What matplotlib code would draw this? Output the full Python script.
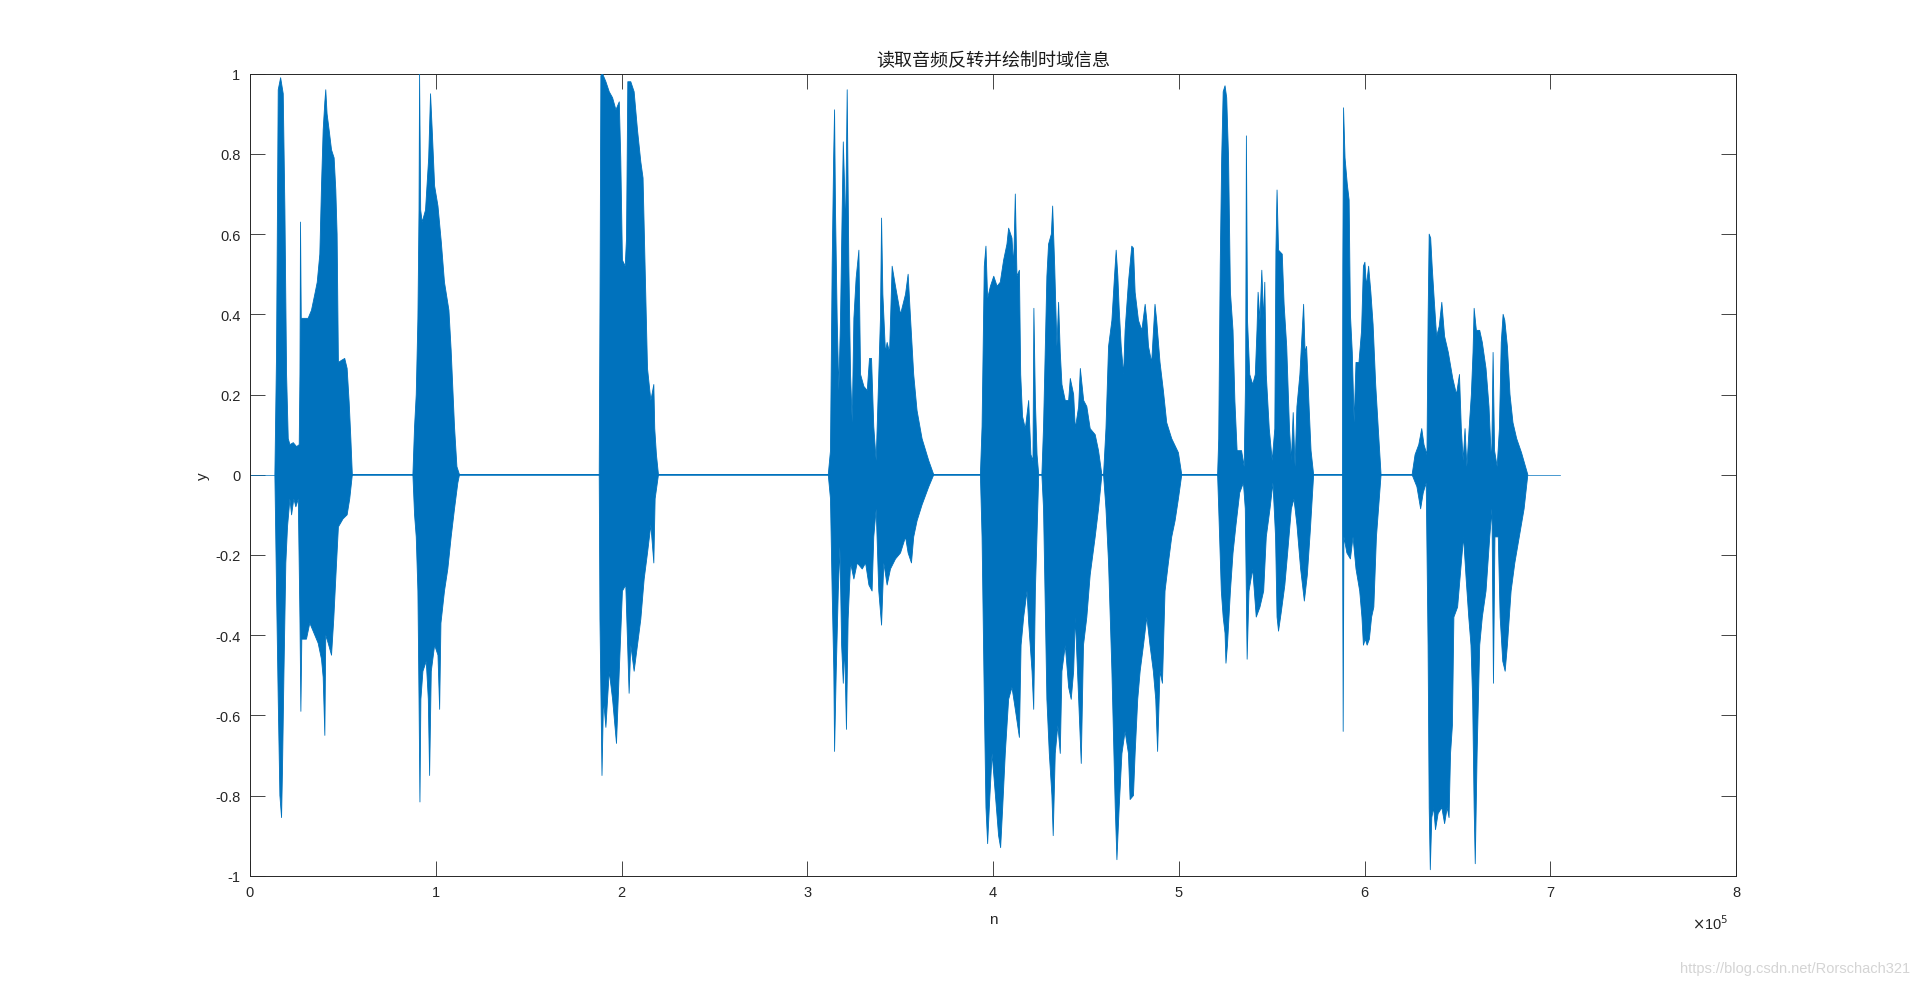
import numpy as np
import matplotlib
matplotlib.use("Agg")
import matplotlib.pyplot as plt
from matplotlib.ticker import FuncFormatter, FixedLocator

# ---------------- data ----------------
title_text = "读取音频反转并绘制时域信息"
xlabel_text = "n"
ylabel_text = "y"
watermark = "https://blog.csdn.net/Rorschach321"

x_ticks_e5 = [0, 1, 2, 3, 4, 5, 6, 7, 8]
y_ticks = [-1, -0.8, -0.6, -0.4, -0.2, 0, 0.2, 0.4, 0.6, 0.8, 1]
signal_length_e5 = 7.05   # baseline extends to the last sample

# upper envelope of the waveform (x in units of 1e5 samples, amplitude)
env_top_x_e5 = [
    0.134, 0.143, 0.152, 0.165, 0.172, 0.179, 0.188, 0.197, 0.206, 0.215, 0.233, 0.251, 0.265, 0.269,
    0.272, 0.276, 0.295, 0.313, 0.331, 0.349, 0.362, 0.376, 0.385, 0.394, 0.403, 0.408, 0.415, 0.426,
    0.439, 0.453, 0.462, 0.469, 0.476, 0.492, 0.510, 0.523, 0.534, 0.543, 0.551,
    0.877, 0.886, 0.895, 0.904, 0.910, 0.913, 0.919, 0.927, 0.945, 0.962, 0.972, 0.981, 0.994, 1.012,
    1.030, 1.047, 1.071, 1.083, 1.101, 1.114, 1.128,
    1.880, 1.884, 1.889, 1.898, 1.916, 1.934, 1.952, 1.970, 1.988, 1.996, 2.005, 2.020, 2.027, 2.034,
    2.050, 2.068, 2.086, 2.104, 2.116, 2.127, 2.140, 2.158, 2.174, 2.179, 2.188, 2.199,
    3.113, 3.125, 3.134, 3.142, 3.147, 3.152, 3.161, 3.170, 3.179, 3.188, 3.194, 3.201, 3.206, 3.215,
    3.224, 3.233, 3.242, 3.251, 3.263, 3.278, 3.287, 3.305, 3.323, 3.335, 3.346, 3.358, 3.371, 3.385,
    3.394, 3.400, 3.407, 3.421, 3.430, 3.443, 3.457, 3.475, 3.502, 3.529, 3.543, 3.556, 3.573, 3.591,
    3.618, 3.654, 3.681,
    3.932, 3.941, 3.953, 3.962, 3.971, 3.986, 4.004, 4.022, 4.039, 4.057, 4.075, 4.084, 4.102, 4.111,
    4.120, 4.129, 4.142, 4.149, 4.159, 4.174, 4.192, 4.204, 4.215, 4.220, 4.228, 4.237, 4.246,
    4.263, 4.272, 4.290, 4.299, 4.314, 4.321, 4.332, 4.344, 4.353, 4.362, 4.371, 4.389, 4.407, 4.416,
    4.434, 4.443, 4.461, 4.470, 4.488, 4.505, 4.523, 4.550, 4.568, 4.586,
    4.595, 4.608, 4.622, 4.640, 4.654, 4.663, 4.672, 4.679, 4.690, 4.703, 4.711, 4.729, 4.747, 4.756,
    4.765, 4.783, 4.801, 4.819, 4.828, 4.837, 4.854, 4.872, 4.881, 4.899, 4.917, 4.935, 4.962, 4.998, 5.016,
    5.209, 5.215, 5.223, 5.231, 5.239, 5.249, 5.258, 5.268, 5.278, 5.292, 5.302, 5.314, 5.338, 5.352,
    5.360, 5.364, 5.370, 5.382, 5.398, 5.412, 5.421, 5.427, 5.437, 5.447, 5.457, 5.463, 5.471, 5.487,
    5.503, 5.517, 5.523, 5.529, 5.537, 5.557, 5.567, 5.581, 5.596, 5.606, 5.616, 5.626, 5.636, 5.652,
    5.672, 5.680, 5.688, 5.700, 5.712, 5.726,
    5.881, 5.883, 5.887, 5.895, 5.907, 5.917, 5.924, 5.934, 5.944, 5.954, 5.970, 5.984, 5.994, 6.002,
    6.010, 6.022, 6.034, 6.046, 6.060, 6.074, 6.089,
    6.256, 6.272, 6.292, 6.308, 6.320, 6.336, 6.342, 6.348, 6.356, 6.364, 6.376, 6.388, 6.402, 6.416,
    6.431, 6.451, 6.475, 6.495, 6.511, 6.521, 6.531, 6.541, 6.551, 6.563, 6.575, 6.584, 6.590, 6.602,
    6.620, 6.634, 6.654, 6.670, 6.684, 6.692, 6.700, 6.714, 6.726, 6.736, 6.746, 6.755, 6.769, 6.783,
    6.799, 6.819, 6.845, 6.879,
]
env_top_y = [
    0, 0.305, 0.96, 0.99, 0.97, 0.95, 0.66, 0.25, 0.09, 0.075, 0.08, 0.07, 0.075, 0.25,
    0.63, 0.39, 0.39, 0.39, 0.41, 0.45, 0.48, 0.55, 0.72, 0.86, 0.93, 0.96, 0.90, 0.86,
    0.81, 0.79, 0.71, 0.60, 0.28, 0.285, 0.29, 0.265, 0.18, 0.09, 0,
    0, 0.12, 0.20, 0.39, 0.66, 1.0, 0.66, 0.63, 0.66, 0.79, 0.95, 0.86, 0.72, 0.67,
    0.58, 0.48, 0.41, 0.31, 0.12, 0.02, 0,
    0, 0.41, 0.995, 1.0, 0.98, 0.955, 0.94, 0.91, 0.93, 0.79, 0.535, 0.52, 0.59, 0.98,
    0.98, 0.955, 0.86, 0.78, 0.74, 0.52, 0.265, 0.185, 0.225, 0.115, 0.05, 0,
    0, 0.06, 0.52, 0.79, 0.91, 0.66, 0.39, 0.21, 0.39, 0.66, 0.83, 0.72, 0.59, 0.96,
    0.52, 0.25, 0.13, 0.39, 0.49, 0.56, 0.25, 0.22, 0.21, 0.29, 0.29, 0.12, 0.035, 0.25,
    0.39, 0.64, 0.45, 0.305, 0.33, 0.305, 0.52, 0.47, 0.40, 0.45, 0.50, 0.39, 0.25, 0.16,
    0.09, 0.035, 0,
    0, 0.12, 0.52, 0.57, 0.44, 0.47, 0.495, 0.47, 0.48, 0.535, 0.575, 0.615, 0.59, 0.52,
    0.70, 0.495, 0.51, 0.25, 0.145, 0.115, 0.185, 0.05, 0.035, 0.415, 0.185, 0.05, 0,
    0, 0.12, 0.495, 0.575, 0.60, 0.67, 0.52, 0.32, 0.43, 0.305, 0.225, 0.185, 0.185, 0.24,
    0.20, 0.115, 0.17, 0.265, 0.185, 0.17, 0.115, 0.10, 0.06, 0,
    0, 0.115, 0.32, 0.385, 0.495, 0.56, 0.495, 0.415, 0.32, 0.25, 0.36, 0.48, 0.57, 0.565,
    0.455, 0.385, 0.36, 0.425, 0.385, 0.32, 0.28, 0.425, 0.385, 0.28, 0.21, 0.13, 0.09, 0.055, 0,
    0, 0.09, 0.52, 0.79, 0.955, 0.97, 0.94, 0.79, 0.455, 0.36, 0.185, 0.06, 0.06, 0.02,
    0.25, 0.845, 0.385, 0.25, 0.225, 0.25, 0.36, 0.455, 0.385, 0.51, 0.385, 0.48, 0.25, 0.115,
    0.035, 0.115, 0.56, 0.71, 0.56, 0.55, 0.425, 0.32, 0.115, 0.035, 0.155, 0.02, 0.17, 0.25,
    0.425, 0.305, 0.32, 0.185, 0.06, 0,
    0, 0.52, 0.915, 0.79, 0.725, 0.685, 0.40, 0.305, 0.13, 0.28, 0.28, 0.36, 0.52, 0.53,
    0.47, 0.52, 0.455, 0.375, 0.225, 0.115, 0,
    0, 0.05, 0.075, 0.115, 0.075, 0.05, 0.385, 0.60, 0.59, 0.52, 0.43, 0.345, 0.37, 0.43,
    0.345, 0.305, 0.24, 0.20, 0.25, 0.115, 0.035, 0.115, 0.02, 0.115, 0.20, 0.305, 0.415, 0.36,
    0.36, 0.33, 0.265, 0.17, 0.02, 0.305, 0.06, 0.02, 0.115, 0.33, 0.40, 0.385, 0.32, 0.20,
    0.13, 0.09, 0.055, 0,
]

# lower envelope of the waveform
env_bot_x_e5 = [
    0.134, 0.143, 0.152, 0.161, 0.170, 0.175, 0.183, 0.193, 0.202, 0.215, 0.224, 0.236, 0.247, 0.260,
    0.269, 0.274, 0.279, 0.304, 0.322, 0.349, 0.367, 0.385, 0.394, 0.403, 0.408, 0.421, 0.439, 0.451,
    0.466, 0.476, 0.501, 0.523, 0.537, 0.551,
    0.877, 0.886, 0.895, 0.904, 0.910, 0.915, 0.920, 0.931, 0.949, 0.960, 0.967, 0.976, 0.994, 1.012,
    1.021, 1.028, 1.047, 1.065, 1.083, 1.101, 1.119, 1.128,
    1.880, 1.884, 1.895, 1.903, 1.916, 1.934, 1.952, 1.973, 1.988, 2.005, 2.023, 2.041, 2.050, 2.068,
    2.086, 2.104, 2.122, 2.140, 2.158, 2.174, 2.181, 2.199,
    3.113, 3.125, 3.134, 3.143, 3.147, 3.156, 3.167, 3.176, 3.185, 3.194, 3.201, 3.211, 3.220, 3.233,
    3.251, 3.269, 3.296, 3.314, 3.332, 3.349, 3.358, 3.371, 3.385, 3.400, 3.412, 3.430, 3.448, 3.475,
    3.502, 3.529, 3.543, 3.561, 3.573, 3.591, 3.618, 3.654, 3.681,
    3.932, 3.941, 3.953, 3.962, 3.971, 3.980, 3.995, 4.013, 4.030, 4.041, 4.052, 4.066, 4.084, 4.102,
    4.120, 4.142, 4.151, 4.165, 4.183, 4.192, 4.210, 4.219, 4.228, 4.246,
    4.263, 4.272, 4.290, 4.303, 4.317, 4.324, 4.335, 4.349, 4.362, 4.371, 4.389, 4.407, 4.421, 4.434,
    4.443, 4.461, 4.475, 4.487, 4.505, 4.523, 4.550, 4.568, 4.586,
    4.595, 4.608, 4.622, 4.640, 4.658, 4.667, 4.679, 4.694, 4.711, 4.729, 4.738, 4.756, 4.765, 4.779,
    4.792, 4.810, 4.828, 4.845, 4.863, 4.876, 4.886, 4.899, 4.912, 4.926, 4.944, 4.962, 4.980, 4.998, 5.016,
    5.209, 5.215, 5.229, 5.239, 5.249, 5.254, 5.262, 5.278, 5.292, 5.308, 5.328, 5.348, 5.358, 5.368,
    5.378, 5.398, 5.417, 5.437, 5.457, 5.471, 5.491, 5.507, 5.521, 5.529, 5.537, 5.551, 5.571, 5.586,
    5.606, 5.620, 5.636, 5.656, 5.676, 5.692, 5.708, 5.726,
    5.881, 5.885, 5.889, 5.905, 5.924, 5.938, 5.954, 5.974, 5.986, 5.994, 6.004, 6.014, 6.026, 6.038,
    6.050, 6.064, 6.089,
    6.256, 6.282, 6.302, 6.316, 6.332, 6.342, 6.348, 6.354, 6.362, 6.372, 6.382, 6.396, 6.416, 6.431,
    6.445, 6.455, 6.463, 6.473, 6.481, 6.501, 6.521, 6.533, 6.547, 6.561, 6.573, 6.582, 6.590, 6.596,
    6.606, 6.620, 6.634, 6.654, 6.674, 6.686, 6.694, 6.702, 6.720, 6.730, 6.744, 6.757, 6.769, 6.789,
    6.809, 6.833, 6.859, 6.879,
]
env_bot_y = [
    0, -0.29, -0.56, -0.80, -0.855, -0.735, -0.49, -0.22, -0.13, -0.06, -0.10, -0.06, -0.08, -0.06,
    -0.36, -0.59, -0.41, -0.41, -0.37, -0.40, -0.42, -0.46, -0.505, -0.65, -0.40, -0.42, -0.45, -0.36,
    -0.22, -0.13, -0.11, -0.10, -0.06, 0,
    0, -0.10, -0.155, -0.29, -0.56, -0.816, -0.56, -0.49, -0.465, -0.56, -0.75, -0.49, -0.425, -0.45,
    -0.585, -0.37, -0.29, -0.235, -0.155, -0.085, -0.02, 0,
    0, -0.36, -0.75, -0.56, -0.63, -0.49, -0.56, -0.67, -0.49, -0.29, -0.275, -0.545, -0.425, -0.49,
    -0.425, -0.36, -0.26, -0.195, -0.125, -0.22, -0.06, 0,
    0, -0.06, -0.29, -0.49, -0.69, -0.49, -0.29, -0.18, -0.425, -0.52, -0.425, -0.635, -0.36, -0.22,
    -0.26, -0.22, -0.235, -0.22, -0.275, -0.29, -0.155, -0.085, -0.29, -0.375, -0.22, -0.275, -0.235, -0.21,
    -0.195, -0.155, -0.195, -0.22, -0.155, -0.115, -0.075, -0.03, 0,
    0, -0.155, -0.56, -0.83, -0.92, -0.83, -0.695, -0.80, -0.90, -0.93, -0.83, -0.695, -0.56, -0.53,
    -0.585, -0.655, -0.425, -0.355, -0.29, -0.37, -0.49, -0.585, -0.29, 0,
    0, -0.085, -0.56, -0.695, -0.80, -0.90, -0.695, -0.625, -0.695, -0.49, -0.425, -0.53, -0.56, -0.49,
    -0.355, -0.56, -0.72, -0.425, -0.355, -0.25, -0.155, -0.085, 0,
    0, -0.085, -0.22, -0.49, -0.83, -0.96, -0.83, -0.695, -0.64, -0.695, -0.81, -0.80, -0.695, -0.56,
    -0.49, -0.425, -0.355, -0.425, -0.49, -0.56, -0.69, -0.49, -0.52, -0.29, -0.22, -0.155, -0.115, -0.06, 0,
    0, -0.085, -0.29, -0.355, -0.395, -0.47, -0.425, -0.29, -0.195, -0.125, -0.045, -0.02, -0.085, -0.46,
    -0.29, -0.235, -0.355, -0.33, -0.29, -0.155, -0.085, -0.02, -0.155, -0.355, -0.39, -0.345, -0.275, -0.195,
    -0.085, -0.06, -0.125, -0.235, -0.315, -0.25, -0.14, 0,
    0, -0.64, -0.155, -0.195, -0.21, -0.155, -0.235, -0.29, -0.355, -0.425, -0.41, -0.425, -0.41, -0.355,
    -0.33, -0.155, 0,
    0, -0.03, -0.085, -0.045, -0.02, -0.425, -0.83, -0.985, -0.855, -0.83, -0.885, -0.845, -0.83, -0.87,
    -0.83, -0.855, -0.695, -0.625, -0.355, -0.33, -0.22, -0.155, -0.26, -0.355, -0.425, -0.56, -0.83, -0.97,
    -0.695, -0.425, -0.355, -0.29, -0.155, -0.085, -0.52, -0.155, -0.155, -0.355, -0.465, -0.49, -0.425, -0.29,
    -0.22, -0.155, -0.085, 0,
]

# ---------------- style ----------------
line_color = "#0072BD"
axis_color = "#262626"

plt.rcParams["font.family"] = ["Liberation Sans", "Noto Sans CJK SC", "DejaVu Sans"]
plt.rcParams["axes.unicode_minus"] = False

fig = plt.figure(figsize=(19.2, 9.87), dpi=100)
ax = fig.add_axes([0.1302, 0.1117, 0.7740, 0.8126])

scale = 1e5
top_x = np.asarray(env_top_x_e5) * scale
bot_x = np.asarray(env_bot_x_e5) * scale
poly_x = np.concatenate([top_x, bot_x[::-1]])
poly_y = np.concatenate([np.asarray(env_top_y), np.asarray(env_bot_y)[::-1]])

# baseline (silent parts of the signal)
ax.plot([0, signal_length_e5 * scale], [0, 0], color=line_color, lw=0.5, zorder=2)
# waveform envelope
ax.fill(poly_x, poly_y, facecolor=line_color, edgecolor=line_color, lw=0.6,
        joinstyle="round", zorder=3)

ax.set_xlim(0, 8e5)
ax.set_ylim(-1, 1)
ax.xaxis.set_major_locator(FixedLocator([t * scale for t in x_ticks_e5]))
ax.xaxis.set_major_formatter(FuncFormatter(lambda v, p: f"{v / scale:g}"))
ax.yaxis.set_major_locator(FixedLocator(y_ticks))
ax.yaxis.set_major_formatter(FuncFormatter(lambda v, p: f"{v:g}"))

ax.tick_params(direction="in", length=11, width=0.6, colors=axis_color,
               labelsize=10.5, top=True, right=True, pad=7)
for s in ax.spines.values():
    s.set_color(axis_color)
    s.set_linewidth(0.7)

ax.set_title(title_text, fontsize=13, color="#1a1a1a", pad=6,
             family=["Noto Sans CJK SC", "DejaVu Sans"])
ax.set_xlabel(xlabel_text, fontsize=11, color=axis_color, labelpad=9)
ax.set_ylabel(ylabel_text, fontsize=11, color=axis_color, labelpad=4)

ax.text(0.995, -0.058, r"$\times$10$^5$", transform=ax.transAxes, fontsize=10.5,
        color=axis_color, ha="right", va="center")

fig.text(0.995, 0.018, watermark, fontsize=10.5, color="#d4d4d4", ha="right", va="center")

fig.savefig("out.png", dpi=100)
